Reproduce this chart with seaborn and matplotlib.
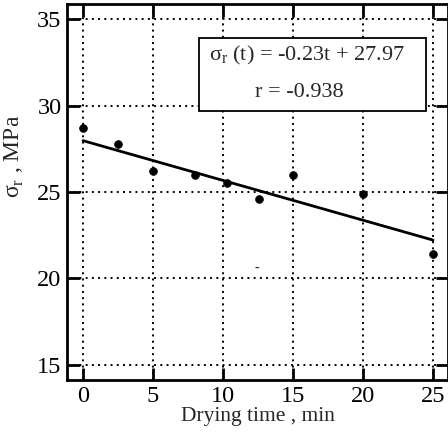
import seaborn as sns
import matplotlib.pyplot as plt
import matplotlib.patches as mpatches
import pandas as pd

# measured points
drying_time = [0, 2.5, 5, 8, 10.3, 12.6, 15, 20, 25]
sigma_r = [28.7, 27.75, 26.2, 26.0, 25.5, 24.6, 26.0, 24.9, 21.4]

# regression line sigma_r(t) = -0.23t + 27.97
fit_time = [0, 25]
fit_sigma = [27.97, 22.22]

x_ticks = [0, 5, 10, 15, 20, 25]
y_ticks = [15, 20, 25, 30, 35]

sns.set_style("ticks")
plt.rcParams["font.family"] = ["Liberation Serif", "DejaVu Serif"]
plt.rcParams["mathtext.fontset"] = "custom"
plt.rcParams["mathtext.rm"] = "Liberation Serif"

fig = plt.figure(figsize=(4.48, 4.37), dpi=100)
ax = fig.add_axes([0.1496, 0.1304, 0.8504, 0.8604])

df = pd.DataFrame({"t": drying_time, "s": sigma_r})
df_fit = pd.DataFrame({"t": fit_time, "s": fit_sigma})

sns.lineplot(data=df_fit, x="t", y="s", ax=ax, color="black", linewidth=2)
sns.scatterplot(data=df, x="t", y="s", ax=ax, color="black", s=32, edgecolor="black", zorder=3)

ax.set_xlim(-1.14, 26.07)
ax.set_ylim(14.13, 35.87)
ax.set_xticks(x_ticks)
ax.set_yticks(y_ticks)
ax.grid(True, color="black", linestyle=(0, (1, 2.2)), linewidth=1.4)

ax.tick_params(direction="in", length=9, width=2, top=True, right=True,
               labelsize=17.5, pad=4, colors="black")
for sp in ax.spines.values():
    sp.set_visible(True)
    sp.set_linewidth(2)
    sp.set_color("black")

ax.set_xlabel("Drying time , min", fontsize=15.5, labelpad=0)
ax.set_ylabel("σ$_{\\mathrm{r}}$ , MPa", fontsize=17)
ax.yaxis.label.set_va("center")
ax.yaxis.set_label_coords(-0.137, 0.595)

# equation box
ax.add_patch(mpatches.Rectangle((0.3465, 0.7154), 0.596, 0.194, transform=ax.transAxes,
                                facecolor="white", edgecolor="black", linewidth=1.3, zorder=4))
ax.text(0.631, 0.862, "σ$_{\\mathrm{r}}$ (t) = -0.23t + 27.97", transform=ax.transAxes,
        ha="center", va="center", fontsize=16, zorder=5)
ax.text(0.610, 0.766, "r = -0.938", transform=ax.transAxes,
        ha="center", va="center", fontsize=16, zorder=5)

# stray mark from the original scan
ax.text(12.4, 20.6, "-", fontsize=10, ha="center", va="center")

plt.savefig("out.png", dpi=100)
